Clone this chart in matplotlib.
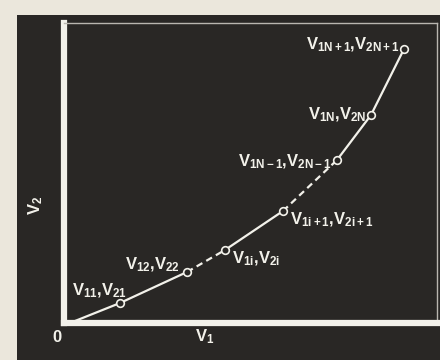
import matplotlib.pyplot as plt
from matplotlib.patches import Rectangle

plt.rcParams['mathtext.fontset'] = 'custom'
plt.rcParams['mathtext.rm'] = 'Liberation Sans:bold'
plt.rcParams['mathtext.it'] = 'Liberation Sans:bold'
plt.rcParams['mathtext.default'] = 'regular'
plt.rcParams['font.family'] = ['Liberation Sans', 'DejaVu Sans']
plt.rcParams['font.weight'] = 'bold'

# curve points (V1, V2), origin first
v1 = [0.0, 5.0, 11.7, 15.5, 21.3, 26.7, 30.1, 33.4]
v2 = [0.0, 2.0, 5.1, 7.3, 11.2, 16.3, 20.8, 27.4]
labels = [None,
          r'$V_{11}{,}V_{21}$',
          r'$V_{12}{,}V_{22}$',
          r'$V_{1i}{,}V_{2i}$',
          r'$V_{1i+1}{,}V_{2i+1}$',
          r'$V_{1N-1}{,}V_{2N-1}$',
          r'$V_{1N}{,}V_{2N}$',
          r'$V_{1N+1}{,}V_{2N+1}$']
# segment i joins point i and i+1
seg_style = ['-', '-', '--', '-', '--', '-', '-']

dark = '#292725'
paper = '#ebe7dc'
white = '#f2f1ea'

fig = plt.figure(figsize=(4.4, 3.6), dpi=100, facecolor=paper)
fig.patches.append(Rectangle((17 / 440, 0), 1, 345 / 360, transform=fig.transFigure,
                             facecolor=dark, edgecolor='none', zorder=-5))

ax = fig.add_axes([64 / 440, 1 - 323 / 360, (437 - 64) / 440, 300 / 360])
ax.set_zorder(2)
ax.set_facecolor(dark)
ax.set_xlim(-0.6, 36.7)
ax.set_ylim(0, 30)
ax.set_xticks([])
ax.set_yticks([])
for side in ['left', 'bottom']:
    ax.spines[side].set_color(white)
    ax.spines[side].set_linewidth(4.5)
for side in ['top', 'right']:
    ax.spines[side].set_color('#b9b6b0')
    ax.spines[side].set_linewidth(1.0)

for i, ls in enumerate(seg_style):
    ax.plot(v1[i:i + 2], v2[i:i + 2], ls, color=white, lw=1.6,
            dashes=(3, 2) if ls == '--' else (None, None), solid_capstyle='round',
            clip_on=False, zorder=3)
ax.plot(v1[1:], v2[1:], 'o', ms=5.5, mfc=dark, mec=white, mew=1.2, zorder=4)

# label offsets in points and alignment
offsets = [None, (-15, 9, 'center'), (-5, 5, 'right'), (5, -6, 'left'),
           (5, -6, 'left'), (-4, -1, 'right'), (-3, 0, 'right'), (-3, 3, 'right')]
for x, y, lab, off in zip(v1, v2, labels, offsets):
    if lab is None:
        continue
    ax.annotate(lab, (x, y), xytext=(off[0], off[1]), textcoords='offset points',
                ha=off[2], va='center', color=white, fontsize=12)

fig.text(57 / 440, 1 - 338 / 360, '0', color=white, fontsize=12, ha='center', va='center')
fig.text(205 / 440, 1 - 337 / 360, r'$V_1$', color=white, fontsize=12, ha='center', va='center')
fig.text(36 / 440, 1 - 205 / 360, r'$V_2$', color=white, fontsize=12, ha='center', va='center',
         rotation=90)

fig.savefig('out.png', dpi=100, facecolor=paper)
